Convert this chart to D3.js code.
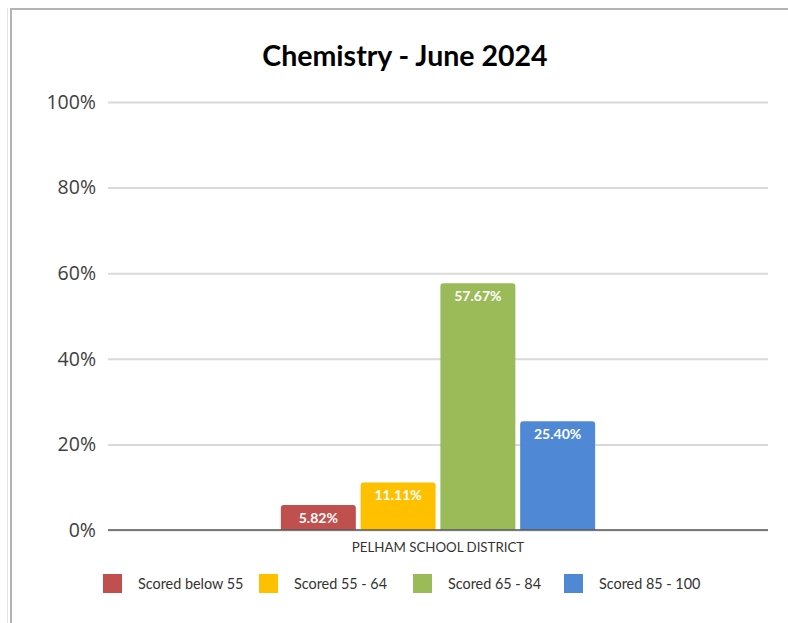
<!DOCTYPE html>
<html><head><meta charset="utf-8">
<script src="https://cdn.jsdelivr.net/npm/d3@7"></script>
<style>body{margin:0;background:#fff;}svg{display:block;}</style>
</head><body>
<svg id="c" width="788" height="623"></svg>
<script>
const title = "Chemistry - June 2024";
const category = "PELHAM SCHOOL DISTRICT";
const seriesNames = ["Scored below 55", "Scored 55 - 64", "Scored 65 - 84", "Scored 85 - 100"];
const seriesValues = [5.82, 11.11, 57.67, 25.40];
const seriesColors = ["#c0504d", "#ffc000", "#9bbb59", "#4f89d6"];
const yTicks = [0, 20, 40, 60, 80, 100];

const svg = d3.select("#c");
// frame
svg.append("rect").attr("x", 0).attr("y", 0).attr("width", 788).attr("height", 623).attr("fill", "#fff");
svg.append("line").attr("x1", 10).attr("x2", 788).attr("y1", 9).attr("y2", 9).attr("stroke", "#b4b4b4").attr("stroke-width", 2);
svg.append("line").attr("x1", 11).attr("x2", 11).attr("y1", 8).attr("y2", 623).attr("stroke", "#b4b4b4").attr("stroke-width", 2);
svg.append("line").attr("x1", 7.5).attr("x2", 7.5).attr("y1", 8).attr("y2", 623).attr("stroke", "#e4e4e4").attr("stroke-width", 1);

const pLeft = 108, pRight = 768, pTop = 102, pBottom = 530;
const y = d3.scaleLinear().domain([0, 100]).range([pBottom, pTop]);
const x0 = d3.scaleBand().domain([category]).range([pLeft, pRight]).paddingInner(0).paddingOuter(0.55);
const x1 = d3.scaleBand().domain(seriesNames).range([0, x0.bandwidth()]).paddingInner(0.06);

// title
svg.append("text").attr("x", 405).attr("y", 66).attr("text-anchor", "middle")
  .attr("font-family", "Lato, 'Open Sans', sans-serif").attr("font-weight", "bold")
  .attr("font-size", 28.5).attr("fill", "#000").text(title);

// gridlines
const yAxis = d3.axisLeft(y).tickValues(yTicks).tickFormat(d => d + "%").tickSize(-(pRight - pLeft)).tickPadding(12);
const gy = svg.append("g").attr("transform", `translate(${pLeft},0)`).call(yAxis);
gy.select(".domain").remove();
gy.selectAll(".tick line").attr("stroke", "#d9d9d9").attr("stroke-width", 2);
gy.selectAll(".tick text").attr("font-family", "'Open Sans', sans-serif").attr("font-size", 19.5).attr("fill", "#404040");

// bars
const g = svg.append("g").attr("transform", `translate(${x0(category)},0)`);
const r = 3;
g.selectAll("path.bar").data(seriesValues).join("path").attr("class", "bar")
  .attr("fill", (d, i) => seriesColors[i])
  .attr("d", (d, i) => {
    const bx = x1(seriesNames[i]), bw = x1.bandwidth(), by = y(d), b0 = y(0);
    return `M${bx},${b0}V${by + r}Q${bx},${by} ${bx + r},${by}H${bx + bw - r}Q${bx + bw},${by} ${bx + bw},${by + r}V${b0}Z`;
  });
g.selectAll("text.lbl").data(seriesValues).join("text").attr("class", "lbl")
  .attr("x", (d, i) => x1(seriesNames[i]) + x1.bandwidth() / 2)
  .attr("y", d => y(d) + 18)
  .attr("text-anchor", "middle").attr("font-family", "Lato, 'Open Sans', sans-serif")
  .attr("font-weight", "bold").attr("font-size", 14).attr("fill", "#fff")
  .text(d => d.toFixed(2) + "%");

// baseline
svg.append("line").attr("x1", pLeft).attr("x2", pRight).attr("y1", y(0)).attr("y2", y(0)).attr("stroke", "#595959").attr("stroke-width", 1.5);

// category label
svg.append("text").attr("x", x0(category) + x0.bandwidth() / 2).attr("y", 552).attr("text-anchor", "middle")
  .attr("font-family", "Lato, 'Open Sans', sans-serif").attr("font-size", 13.3).attr("fill", "#333").text(category);

// legend
const legendX = [103, 259, 413, 564];
const lg = svg.append("g");
seriesNames.forEach((n, i) => {
  lg.append("rect").attr("x", legendX[i]).attr("y", 574).attr("width", 19).attr("height", 19).attr("fill", seriesColors[i]);
  lg.append("text").attr("x", legendX[i] + 35).attr("y", 589).attr("font-family", "Lato, 'Open Sans', sans-serif")
    .attr("font-size", 14.4).attr("fill", "#333").text(n);
});
</script>
</body></html>
